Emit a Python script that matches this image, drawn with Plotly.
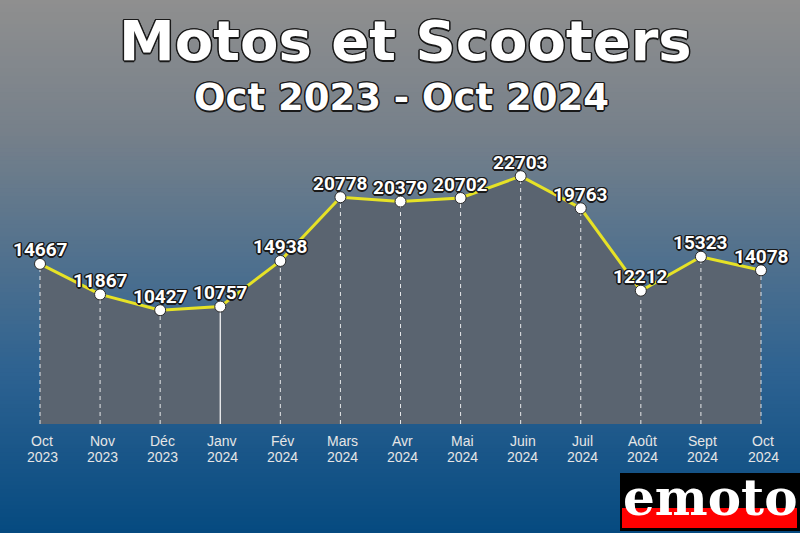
import plotly.graph_objects as go

# ---- data ----
months = ["Oct", "Nov", "Déc", "Janv", "Fév", "Mars", "Avr", "Mai", "Juin", "Juil", "Août", "Sept", "Oct"]
years = ["2023", "2023", "2023", "2024", "2024", "2024", "2024", "2024", "2024", "2024", "2024", "2024", "2024"]
values = [14667, 11867, 10427, 10757, 14938, 20778, 20379, 20702, 22703, 19763, 12212, 15323, 14078]
title_text = "Motos et Scooters"
subtitle_text = "Oct 2023 - Oct 2024"

xs = list(range(len(values)))

W, H = 800, 533
oc = "#1a1a1a"
outline = ", ".join(f"{a}px {b}px 0 {oc}" for a, b in [(1, 1), (-1, -1), (1, -1), (-1, 1), (0, 1), (0, -1), (1, 0), (-1, 0),
                                                       (1.5, 0), (-1.5, 0), (0, 1.5), (0, -1.5)])

fig = go.Figure()

# area
fig.add_trace(go.Scatter(x=xs, y=values, mode="lines", line=dict(width=0, color="rgba(0,0,0,0)"),
                         fill="tozeroy", fillcolor="#5a6470", hoverinfo="skip", showlegend=False))

# vertical guide lines
dx, dy, sx, sy = [], [], [], []
for i, v in enumerate(values):
    new_year = i > 0 and years[i] != years[i - 1]
    if new_year:
        sx += [i, i, None]; sy += [0, v, None]
    else:
        dx += [i, i, None]; dy += [0, v, None]
fig.add_trace(go.Scatter(x=dx, y=dy, mode="lines", line=dict(color="rgba(255,255,255,0.85)", width=1, dash="4px,4px"),
                         hoverinfo="skip", showlegend=False))
fig.add_trace(go.Scatter(x=sx, y=sy, mode="lines", line=dict(color="white", width=1.2),
                         hoverinfo="skip", showlegend=False))

# main line
fig.add_trace(go.Scatter(x=xs, y=values, mode="lines+markers",
                         line=dict(color="#e6e226", width=3),
                         marker=dict(size=11, color="white", line=dict(color="#2a2a2a", width=1)),
                         hoverinfo="skip", showlegend=False))

# gradient background
stops = [(0.0, (143, 143, 143)), (0.25, (118, 128, 138)), (0.5, (78, 112, 142)), (0.7, (45, 98, 145)), (1.0, (6, 74, 128))]
def col(t):
    for (t0, c0), (t1, c1) in zip(stops[:-1], stops[1:]):
        if t0 <= t <= t1:
            f = (t - t0) / (t1 - t0)
            return "rgb(%d,%d,%d)" % tuple(round(a + (b - a) * f) for a, b in zip(c0, c1))
    return "rgb(%d,%d,%d)" % stops[-1][1]

shapes = []
N = 133
for i in range(N):
    t = (i + 0.5) / N
    shapes.append(dict(type="rect", xref="paper", yref="paper", x0=0, x1=1,
                       y0=1 - (i + 1) / N - 0.002, y1=1 - i / N, fillcolor=col(t), line=dict(width=0), layer="below"))

# logo
shapes.append(dict(type="rect", xref="paper", yref="paper", x0=620 / W, x1=1.0, y0=1 - 531 / H, y1=1 - 473 / H,
                   fillcolor="black", line=dict(width=0), layer="above"))
shapes.append(dict(type="rect", xref="paper", yref="paper", x0=622 / W, x1=797 / W, y0=1 - 528 / H, y1=1 - 508 / H,
                   fillcolor="#ff0000", line=dict(width=0), layer="above"))

annotations = [
    dict(text=title_text, x=405 / W, y=1 - 40 / H, xref="paper", yref="paper", showarrow=False,
         xanchor="center", yanchor="middle",
         font=dict(family="DejaVu Sans", size=56, color="white", weight="bold", shadow=outline)),
    dict(text=subtitle_text, x=401 / W, y=1 - 97 / H, xref="paper", yref="paper", showarrow=False,
         xanchor="center", yanchor="middle",
         font=dict(family="DejaVu Sans", size=37, color="white", weight="bold", shadow=outline)),
    dict(text="emoto", x=710 / W, y=1 - 497 / H, xref="paper", yref="paper", showarrow=False,
         xanchor="center", yanchor="middle",
         font=dict(family="DejaVu Serif", size=50, color="white", weight="bold")),
]
# value labels
for i, v in enumerate(values):
    annotations.append(dict(text=str(v), x=i, y=v, xref="x", yref="y", showarrow=False,
                            xanchor="center", yanchor="middle", yshift=14,
                            font=dict(family="Roboto", size=19, color="white", weight="bold", shadow=outline)))
# x tick labels (month / year)
for i, (m, y) in enumerate(zip(months, years)):
    annotations.append(dict(text=m, x=i, y=1 - 441 / H, xref="x", yref="paper", showarrow=False,
                            xanchor="center", yanchor="middle", xshift=2,
                            font=dict(family="Liberation Sans", size=14, color="#e6e6e6")))
    annotations.append(dict(text=y, x=i, y=1 - 457 / H, xref="x", yref="paper", showarrow=False,
                            xanchor="center", yanchor="middle", xshift=2,
                            font=dict(family="Liberation Sans", size=14, color="#e6e6e6")))

scale = 0.010916  # px per unit
y_min = -1 / scale
y_max = (424 - 140) / scale

fig.update_layout(
    width=W, height=H,
    margin=dict(l=0, r=0, t=0, b=0),
    paper_bgcolor="rgb(6,74,128)", plot_bgcolor="rgba(0,0,0,0)",
    shapes=shapes, annotations=annotations,
    xaxis=dict(domain=[0, 1], range=[-40 / 60.08, 12 + 39 / 60.08], showticklabels=False,
               showgrid=False, zeroline=False, showline=False, ticks="", automargin=False),
    yaxis=dict(domain=[108 / H, 393 / H], range=[y_min, y_max], visible=False, showgrid=False, zeroline=False),
)

fig.write_html("out.html", config={"displayModeBar": False, "staticPlot": True},
               post_script="document.body.style.margin='0px';document.body.style.overflow='hidden';")
